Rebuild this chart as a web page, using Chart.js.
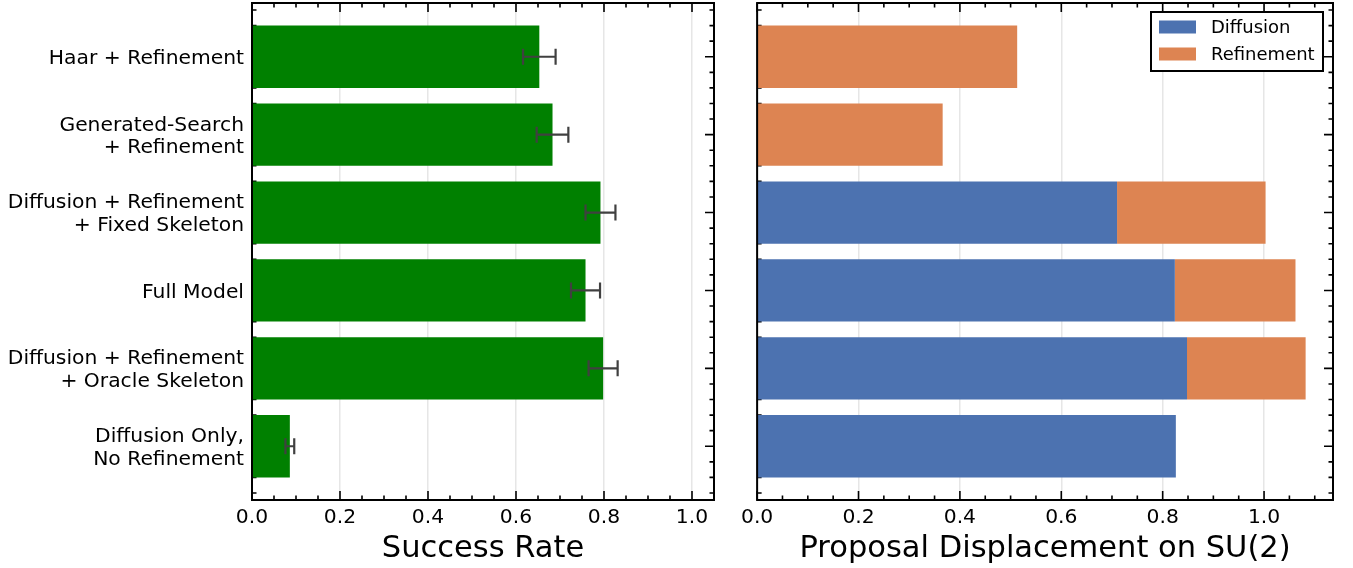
<!DOCTYPE html>
<html>
<head>
<meta charset="utf-8">
<title>Ablation results</title>
<script src="https://cdn.jsdelivr.net/npm/chart.js@4.4.1/dist/chart.umd.min.js"></script>
<style>
  html, body { margin: 0; padding: 0; background: #fff; }
  #wrap { position: relative; width: 1353px; height: 568px; }
  .panel { position: absolute; top: 0; height: 568px; }
  #leftPanel { left: 0; width: 735px; }
  #rightPanel { left: 735px; width: 618px; }
</style>
</head>
<body>
<div id="wrap">
  <div class="panel" id="leftPanel"><canvas id="successChart"></canvas></div>
  <div class="panel" id="rightPanel"><canvas id="displacementChart"></canvas></div>
</div>
<script>
const methods = [
  ["Haar + Refinement"],
  ["Generated-Search", "+ Refinement"],
  ["Diffusion + Refinement", "+ Fixed Skeleton"],
  ["Full Model"],
  ["Diffusion + Refinement", "+ Oracle Skeleton"],
  ["Diffusion Only,", "No Refinement"],
];

const successRate = [0.653, 0.683, 0.792, 0.758, 0.798, 0.086];
const successErr = [0.037, 0.036, 0.034, 0.033, 0.033, 0.010];

const diffusionDisp = [0, 0, 0.710, 0.824, 0.848, 0.826];
const refinementDisp = [0.513, 0.366, 0.293, 0.238, 0.234, 0];

const xTickValues = [0, 0.2, 0.4, 0.6, 0.8, 1.0];

const FONT = "'DejaVu Sans', sans-serif";
const TICK_SIZE = 20.3;
const Y_MIN = -0.69;
const Y_MAX = 5.69;

// one tick per method row; also keeps the bar ruler at one row spacing
const rowTicks = (s) => { s.ticks = methods.map((_, i) => ({ value: i })); };

// inward ticks on all four sides (drawn under the bars) plus the black frame
const tickMarks = {
  id: "tickMarks",
  beforeDatasetsDraw(chart) {
    const { ctx, chartArea: a, scales: { x, y } } = chart;
    ctx.save();
    ctx.strokeStyle = "#000";
    ctx.lineWidth = 1.6;
    ctx.beginPath();
    for (let i = 0; i * 0.05 <= x.max + 1e-9; i++) {
      const px = x.getPixelForValue(i * 0.05);
      const len = i % 4 === 0 ? 9 : 4.5;
      ctx.moveTo(px, a.bottom);
      ctx.lineTo(px, a.bottom - len);
      ctx.moveTo(px, a.top);
      ctx.lineTo(px, a.top + len);
    }
    for (let i = Math.ceil(y.min / 0.2); i * 0.2 <= y.max; i++) {
      const py = y.getPixelForValue(i * 0.2);
      const len = i % 5 === 0 ? 9 : 4.5;
      ctx.moveTo(a.left, py);
      ctx.lineTo(a.left + len, py);
      ctx.moveTo(a.right, py);
      ctx.lineTo(a.right - len, py);
    }
    ctx.stroke();
    ctx.restore();
  },
  afterDatasetsDraw(chart) {
    const { ctx, chartArea: a } = chart;
    ctx.save();
    ctx.strokeStyle = "#000";
    ctx.lineWidth = 2;
    ctx.strokeRect(a.left, a.top, a.right - a.left, a.bottom - a.top);
    ctx.restore();
  },
};

const errorBars = {
  id: "errorBars",
  afterDatasetsDraw(chart) {
    const { ctx, scales: { x, y } } = chart;
    ctx.save();
    ctx.strokeStyle = "#404040";
    ctx.lineWidth = 2.2;
    successRate.forEach((v, i) => {
      const py = y.getPixelForValue(i);
      const x0 = x.getPixelForValue(v - successErr[i]);
      const x1 = x.getPixelForValue(v + successErr[i]);
      ctx.beginPath();
      ctx.moveTo(x0, py);
      ctx.lineTo(x1, py);
      ctx.moveTo(x0, py - 8);
      ctx.lineTo(x0, py + 8);
      ctx.moveTo(x1, py - 8);
      ctx.lineTo(x1, py + 8);
      ctx.stroke();
    });
    ctx.restore();
  },
};

const boxLegend = {
  id: "boxLegend",
  afterDraw(chart) {
    const { ctx, chartArea: a } = chart;
    const w = 172;
    const h = 59;
    const left = a.right - 10 - w;
    const top = a.top + 9;
    ctx.save();
    ctx.fillStyle = "#fff";
    ctx.fillRect(left, top, w, h);
    ctx.strokeStyle = "#000";
    ctx.lineWidth = 2;
    ctx.strokeRect(left, top, w, h);
    ctx.font = `18px ${FONT}`;
    ctx.textBaseline = "middle";
    chart.data.datasets.forEach((ds, i) => {
      const cy = top + 15 + i * 27;
      ctx.fillStyle = ds.backgroundColor;
      ctx.fillRect(left + 8, cy - 6.5, 37, 13);
      ctx.fillStyle = "#000";
      ctx.fillText(ds.label, left + 60, cy + 1);
    });
    ctx.restore();
  },
};

function xAxis(max, title) {
  return {
    type: "linear",
    min: 0,
    max: max,
    afterBuildTicks: (s) => { s.ticks = xTickValues.map((v) => ({ value: v })); },
    afterFit: (s) => { s.height = 68; },
    grid: { color: "#e6e6e6", lineWidth: 1.5, drawTicks: false },
    border: { display: false },
    ticks: {
      padding: 6,
      color: "#000",
      maxRotation: 0,
      font: { family: FONT, size: TICK_SIZE },
      callback: (v) => v.toFixed(1),
    },
    title: {
      display: true,
      text: title,
      color: "#000",
      font: { family: FONT, size: 30.5 },
      padding: { top: 0, bottom: 1 },
    },
  };
}

const common = {
  indexAxis: "y",
  responsive: true,
  maintainAspectRatio: false,
  animation: false,
  events: [],
  plugins: { legend: { display: false }, tooltip: { enabled: false } },
};

new Chart(document.getElementById("successChart"), {
  type: "bar",
  data: {
    datasets: [{
      label: "Success Rate",
      data: successRate.map((v, i) => ({ x: v, y: i })),
      backgroundColor: "#008000",
      borderWidth: 0,
      categoryPercentage: 1,
      barPercentage: 0.8,
    }],
  },
  options: {
    ...common,
    layout: { padding: { top: 3, right: 21, bottom: 0, left: 0 } },
    scales: {
      x: xAxis(1.05, "Success Rate"),
      y: {
        type: "linear",
        offset: false,
        reverse: true,
        min: Y_MIN,
        max: Y_MAX,
        afterBuildTicks: rowTicks,
        afterFit: (s) => {
          s.width = 252;
          s.paddingTop = 0;
          s.paddingBottom = 0;
        },
        grid: { display: false, drawTicks: false },
        border: { display: false },
        ticks: {
          padding: 8,
          autoSkip: false,
          labelOffset: 2,
          color: "#000",
          font: { family: FONT, size: TICK_SIZE, lineHeight: 1.12 },
          callback: (v) => methods[v],
        },
      },
    },
  },
  plugins: [tickMarks, errorBars],
});

new Chart(document.getElementById("displacementChart"), {
  type: "bar",
  data: {
    datasets: [
      {
        label: "Diffusion",
        data: diffusionDisp.map((v, i) => ({ x: v, y: i })),
        backgroundColor: "#4c72b0",
        borderWidth: 0,
        categoryPercentage: 1,
        barPercentage: 0.8,
      },
      {
        label: "Refinement",
        data: refinementDisp.map((v, i) => ({ x: v, y: i })),
        backgroundColor: "#dd8452",
        borderWidth: 0,
        categoryPercentage: 1,
        barPercentage: 0.8,
      },
    ],
  },
  options: {
    ...common,
    layout: { padding: { top: 3, right: 20, bottom: 0, left: 20 } },
    scales: {
      x: { ...xAxis(1.136, "Proposal Displacement on SU(2)"), stacked: true },
      y: {
        type: "linear",
        display: false,
        offset: false,
        stacked: true,
        reverse: true,
        min: Y_MIN,
        max: Y_MAX,
        afterBuildTicks: rowTicks,
      },
    },
  },
  plugins: [tickMarks, boxLegend],
});
</script>
</body>
</html>
